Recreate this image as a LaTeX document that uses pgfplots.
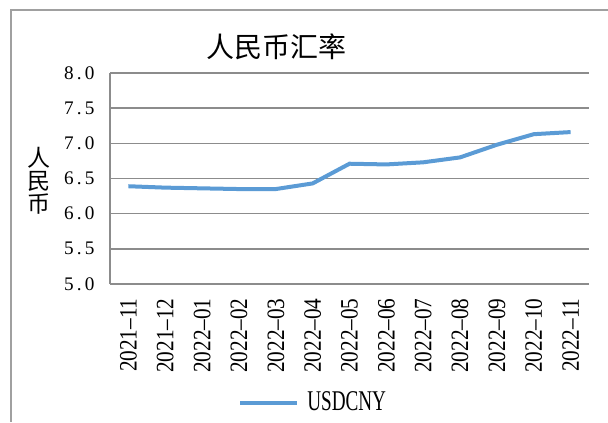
\documentclass[border=0pt]{standalone}
\usepackage{fontspec}
\usepackage{pgfplots}
\pgfplotsset{compat=1.18}
\setmainfont{Liberation Serif}
\newfontfamily\cjk{Noto Sans CJK SC}
\newfontfamily\xtickfont[FakeStretch=0.85]{Liberation Serif}
\newfontfamily\legfont[FakeStretch=0.67]{Liberation Serif}
\definecolor{lineblue}{HTML}{5B9BD5}
\definecolor{gridgray}{HTML}{8C8C8C}
\definecolor{bordergray}{HTML}{A0A0A0}
\begin{document}
\begin{tikzpicture}
\useasboundingbox (0,0) rectangle (304pt,211pt);
\draw[bordergray, line width=1pt] (5pt,206pt) -- (304pt,206pt);
\draw[bordergray, line width=1pt] (5.5pt,206pt) -- (5.5pt,0pt);
\node[font=\cjk\fontsize{14pt}{15pt}\selectfont] at (138pt,187.5pt) {人民币汇率};
\node[font=\cjk\fontsize{11.5pt}{11.5pt}\selectfont, align=center, inner sep=0pt] at (19.5pt,120.5pt) {人\\[0.0pt]民\\[0.0pt]币};
\begin{axis}[
  at={(55pt,69pt)}, anchor=south west,
  scale only axis, width=239.5pt, height=105.5pt,
  /pgf/number format/assume math mode=true,
  xmin=-0.5, xmax=12.5, ymin=5, ymax=8,
  xtick={0,...,12},
  xticklabels={2021–11,2021–12,2022–01,2022–02,2022–03,2022–04,2022–05,2022–06,2022–07,2022–08,2022–09,2022–10,2022–11},
  ytick={5,5.5,...,8},
  yticklabels={5\hspace{1.6pt}.\hspace{1.6pt}0,5\hspace{1.6pt}.\hspace{1.6pt}5,6\hspace{1.6pt}.\hspace{1.6pt}0,6\hspace{1.6pt}.\hspace{1.6pt}5,7\hspace{1.6pt}.\hspace{1.6pt}0,7\hspace{1.6pt}.\hspace{1.6pt}5,8\hspace{1.6pt}.\hspace{1.6pt}0},
  major tick length=0pt,
  axis x line*=bottom, axis y line*=left,
  axis line style={gridgray, line width=0.75pt, -},
  ymajorgrids, major grid style={gridgray, line width=0.75pt},
  xticklabel style={font=\xtickfont\fontsize{12.5pt}{13pt}\selectfont, rotate=90, anchor=east, inner sep=0pt},
  xticklabel shift=7pt,
  yticklabel style={font=\rmfamily\fontsize{9.6pt}{10pt}\selectfont, anchor=east, inner sep=0pt},
  yticklabel shift=7.5pt,
  legend style={at={(0.267,-0.564)}, anchor=west, draw=none, fill=none, inner sep=0pt,
    nodes={inner sep=0pt, font=\legfont\fontsize{14.3pt}{15pt}\selectfont}, column sep=4pt},
  legend image code/.code={\draw[#1] (0pt,0pt) -- (28.5pt,0pt);},
]
\addplot[lineblue, line width=2pt] coordinates {
(0,6.39) (1,6.37) (2,6.36) (3,6.35) (4,6.35) (5,6.43) (6,6.71) (7,6.70) (8,6.73) (9,6.80) (10,6.98) (11,7.13) (12,7.16)
};
\addlegendentry{USDCNY}
\end{axis}
\end{tikzpicture}
\end{document}
